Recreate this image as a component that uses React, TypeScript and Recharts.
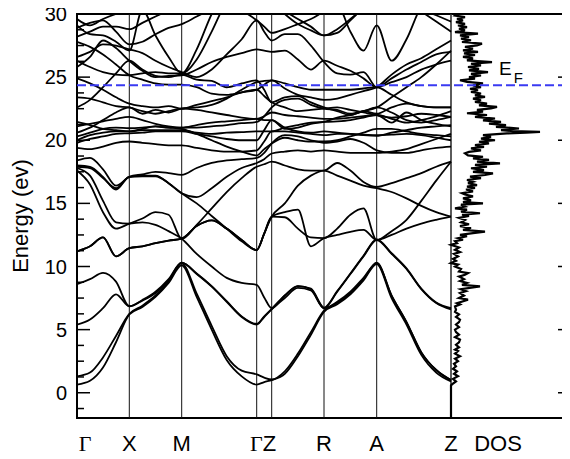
import React from "react";
import { ComposedChart, Line, XAxis, YAxis, ReferenceLine, ReferenceArea } from "recharts";

// k-path sample positions (Γ X M Γ Z R A Z), in path-length units
const kPoints = [0, 13, 26, 39, 52.3, 65.4, 78.5, 91.6, 104.7, 119.7, 134.7, 149.7, 164.7, 179.7, 187.2, 194.7, 207.8, 220.9, 233.9, 247, 260.2, 273.4, 286.5, 299.7, 314.6, 329.5, 344.3, 359.2, 374];

// band energies (eV)
const b01 = [0.65,0.95,2.0,4.0,6.2, 6.8,7.6,8.7,10.1, 7.6,5.0,2.6,1.3,0.65, 0.85,1.0, 1.5,2.9,4.6,6.4, 7.0,7.8,8.9,10.2, 7.5,5.4,3.0,1.6,0.9];
const b02 = [1.3,1.6,2.8,4.5,6.25, 6.9,7.7,8.8,10.25, 7.85,5.3,2.9,1.75,1.45, 1.2,1.05, 1.7,3.1,4.8,6.5, 7.1,7.9,9.0,10.3, 7.7,5.6,3.2,1.8,1.0];
const b03 = [5.4,5.8,6.7,7.8,6.85, 7.3,7.9,8.9,10.3, 9.4,8.4,7.2,6.0,5.4, 6.0,6.6, 7.5,8.3,8.1,6.7, 8.0,9.4,10.8,12.1, 11.0,9.8,8.2,7.1,6.6];
const b04 = [8.6,9.0,9.5,8.8,6.85, 7.35,8.0,9.0,10.3, 9.45,8.45,7.25,6.05,5.45, 6.05,6.65, 7.7,8.45,8.25,6.75, 8.05,9.45,10.85,12.15, 11.05,9.85,8.25,7.15,6.7];
const b05 = [11.2,11.6,12.3,10.8,11.45, 11.6,11.85,12.05,12.2, 13.2,13.65,13.0,12.1,11.3, 12.6,13.95, 14.3,14.5,11.6,12.25, 12.5,12.75,12.9,12.1, 12.8,13.7,15.2,16.8,18.3];
const b06 = [17.6,16.5,14.3,13.0,13.4, 13.8,14.3,14.1,12.2, 13.3,14.6,15.9,17.0,17.9, 18.1,18.3, 18.0,17.7,17.6,17.6, 18.2,17.6,16.7,16.3, 16.6,17.0,17.4,17.9,18.3];
const b07 = [17.8,17.2,15.2,13.5,13.4, 13.5,13.3,12.8,12.2, 11.0,10.0,9.1,8.7,8.55, 7.55,6.7, 7.7,8.45,8.2,6.7, 7.2,8.0,9.1,10.25, 7.7,5.6,3.2,1.8,1.0];
const b08 = [17.9,17.8,17.0,16.2,17.1, 17.2,17.2,16.6,15.8, 15.5,16.2,17.1,17.8,18.2, 18.5,18.95, 19.1,19.2,19.1,19.2, 19.1,19.0,19.0,19.0, 19.1,19.3,19.7,20.1,20.5];
const b09 = [18.4,18.6,17.7,16.4,17.1, 17.3,17.5,17.4,17.25, 17.8,18.2,18.4,18.5,18.6, 19.0,19.75, 20.4,20.3,20.0,19.8, 19.9,20.1,19.8,19.2, 19.0,19.0,19.2,19.4,19.5];
const b10 = [11.2,11.6,12.3,10.8,11.45, 11.6,11.85,12.05,12.2, 13.2,13.65,13.0,12.1,11.3, 12.6,13.95, 13.9,13.0,12.3,12.25, 13.0,14.1,14.6,12.1, 12.5,13.0,13.4,13.7,13.95];
const b11 = [18.0,17.9,17.1,16.1,17.1, 17.15,17.15,16.6,15.8, 15.0,14.0,13.0,12.0,11.3, 12.6,13.95, 15.0,16.4,17.2,17.6, 17.2,16.8,16.4,16.2, 15.9,15.4,14.8,14.3,13.95];
const b12 = [19.4,19.3,19.5,19.8,19.9, 19.8,19.7,19.6,19.6, 19.4,19.2,19.1,19.1,19.2, 19.9,20.7, 20.7,20.6,20.5,20.4, 20.5,20.5,20.45,20.4, 20.45,20.5,20.4,20.2,20.0];
const b13 = [19.8,20.1,20.3,20.5,20.55, 20.6,20.7,20.7,20.7, 20.5,20.3,20.1,20.0,20.0, 20.8,21.6, 21.0,20.7,20.6,20.7, 20.6,20.5,20.4,20.35, 20.6,20.8,21.0,21.1,21.2];
const b14 = [20.0,20.4,20.6,20.7,20.7, 20.8,20.8,20.8,20.8, 20.6,20.5,20.6,20.65,20.7, 20.7,20.7, 21.0,21.2,21.4,21.45, 21.5,21.6,21.8,22.0, 21.4,22.2,21.6,21.3,21.1];
const b15 = [20.3,20.6,20.9,21.0,20.95, 21.0,21.1,21.0,21.0, 21.0,21.1,21.2,21.35,21.45, 21.9,22.6, 23.2,23.3,22.8,22.5, 22.4,22.1,22.3,22.6, 22.2,21.6,21.4,21.6,21.85];
const b16 = [20.6,21.0,21.6,22.2,22.6, 22.1,22.4,22.2,22.5, 22.6,22.8,23.3,24.0,24.6, 24.7,24.75, 24.1,23.6,23.4,23.2, 23.3,23.6,23.9,24.2, 25.2,26.0,26.5,27.2,27.9];
const b17 = [21.1,21.3,21.5,21.7,21.85, 21.6,21.3,21.1,21.0, 21.2,21.4,21.5,21.6,21.7, 21.6,21.6, 20.9,21.0,21.3,21.45, 21.8,22.0,22.3,22.6, 23.4,24.2,25.0,26.0,27.1];
const b18 = [22.6,23.2,24.2,25.3,26.3, 25.6,25.1,25.0,25.2, 24.8,24.7,24.2,24.5,24.75, 24.0,23.0, 23.4,23.5,23.0,22.6, 22.3,22.0,22.3,22.1, 22.6,22.9,22.7,22.6,22.6];
const b19 = [24.9,24.5,24.0,23.4,22.9, 22.7,22.6,22.7,22.5, 22.8,23.1,23.4,23.8,24.0, 24.4,24.75, 24.5,24.2,24.0,24.0, 24.0,24.0,24.1,24.2, 23.6,23.0,22.7,22.6,22.6];
const b20 = [26.3,25.8,25.4,25.2,25.15, 25.3,25.4,25.3,25.3, 26.4,28.6,31,32,32, 31.2,30.5, 30.2,29.6,29.0,28.3, 28.8,29.6,30.5,31.5, 32,32,32,32,32];
const b21 = [25.8,26.6,27.9,27.3,26.3, 25.5,25.0,25.1,25.15, 25.6,26.2,26.6,26.9,27.2, 27.1,27.0, 27.1,26.4,25.6,26.3, 25.9,25.5,24.9,24.2, 24.6,25.0,25.6,26.0,26.3];
const b22 = [29.1,28.4,28.3,27.8,27.1, 30.3,28.3,26.6,25.3, 27.2,30.0,32,32,32, 32,32, 32,32,32,32, 32,32,32,32, 31.5,31,30.4,29.9,29.4];
const b23 = [26.6,27.0,27.6,27.5,27.2, 26.9,26.3,25.8,25.4, 25.0,25.6,26.8,28.0,29.5, 28.6,27.9, 28.4,28.4,27.5,26.2, 25.3,25.2,25.4,24.2, 24.9,25.6,26.2,26.8,27.0];
const b24 = [27.8,27.4,26.8,26.0,25.15, 24.8,24.5,24.4,24.4, 24.2,23.7,23.6,23.8,24.0, 23.5,23.0, 22.6,22.3,22.4,22.5, 22.6,22.4,22.2,22.0, 21.8,21.9,22.1,22.0,21.85];
const b25 = [29.6,29.1,29.6,30.0,30.3, 30.8,31.2,31.5,31.5, 31.5,31.5,31,30.3,29.5, 29.0,28.5, 28.8,29.2,29.6,30.2, 30.7,28.6,27.1,29.1, 26.3,28.0,30.6,31.5,32];
const b26 = [28.2,28.6,29.0,29.0,28.8, 29.3,29.8,30.3,30.8, 31,31.5,32,32,32, 31.5,31, 30.0,29.2,28.7,28.3, 28.5,29.5,30.5,31.5, 31.5,31,30.2,29.4,28.6];
const b27 = [28.9,29.3,29.5,28.6,27.6, 27.8,28.4,28.9,29.2, 29.8,30.4,30.8,31,31, 31,31, 31,31,31,31, 31,31,31,31, 31,31,31,31,31];
const b28 = [23.4,23.3,23.0,22.7,22.6, 22.3,22.1,22.3,22.5, 22.4,22.2,22.0,21.8,21.7, 21.9,22.2, 22.0,21.9,21.8,21.7, 21.7,21.8,21.9,22.0, 21.7,21.4,21.6,21.9,22.3];
const b29 = [21.45,21.2,20.9,20.8,20.7, 20.9,21.1,21.0,20.9, 20.5,20.0,19.5,19.1,18.8, 19.3,19.75, 20.2,20.0,19.9,19.9, 20.0,20.3,20.6,20.9, 20.9,20.7,20.5,20.4,20.3];

const bands = [b01,b02,b03,b04,b05,b06,b07,b08,b09,b10,b11,b12,b13,b14,b15,b16,b17,b18,b19,b20,b21,b22,b23,b24,b25,b26,b27,b28,b29];

// density of states: energy (eV) and DOS value (panel units)
const dosE = [-2,0.58,0.66,0.9,1.1,1.31,1.5,1.7,1.9,2.1,2.3,2.5,2.7,2.89,3.1,3.3,3.42,3.6,3.8,4.0,4.21,4.4,4.6,4.8,5.0,5.2,5.4,5.6,5.79,6.0,6.2,6.4,6.58,6.84,7.0,7.1,7.37,7.5,7.7,7.9,8.05,8.2,8.42,8.55,8.7,8.85,9.0,9.2,9.35,9.48,9.6,9.8,10.0,10.15,10.27,10.45,10.6,10.8,11.0,11.15,11.32,11.5,11.72,11.85,12.0,12.12,12.24,12.4,12.5,12.65,12.76,12.9,13.05,13.2,13.35,13.5,13.69,13.85,14.0,14.1,14.22,14.35,14.5,14.61,14.75,14.9,15.0,15.1,15.25,15.4,15.55,15.7,15.8,15.95,16.1,16.22,16.32,16.45,16.6,16.71,16.85,17.0,17.12,17.25,17.38,17.5,17.64,17.78,17.9,18.05,18.17,18.3,18.45,18.56,18.69,18.8,18.96,19.08,19.2,19.35,19.48,19.61,19.75,19.88,20.0,20.13,20.27,20.4,20.54,20.6,20.66,20.72,20.8,20.93,21.06,21.2,21.32,21.45,21.58,21.72,21.85,22.0,22.14,22.27,22.4,22.52,22.64,22.76,22.9,23.04,23.17,23.3,23.43,23.56,23.7,23.83,23.96,24.08,24.2,24.35,24.5,24.62,24.75,24.88,25.0,25.13,25.26,25.4,25.53,25.66,25.8,25.93,26.06,26.19,26.33,26.48,26.6,26.75,26.88,27.0,27.12,27.26,27.4,27.52,27.65,27.78,27.92,28.05,28.17,28.3,28.44,28.56,28.7,28.83,28.96,29.09,29.22,29.36,29.49,29.62,29.75,29.88,30.0];
const dosV = [0,0,1,5,2,7,3,6,2,5,3,7,4,9,4,7,4,8,5,8,9,4,8,5,4,8,5,8,9,5,8,4,5,4,9,6,17,8,13,9,15,10,29,11,16,9,13,8,14,17,8,10,4,7,0,5,2,7,3,9,4,8,0,6,4,12,7,16,9,22,34,12,20,9,18,10,14,8,18,11,29,10,16,4,14,10,32,12,20,12,22,14,11,22,15,24,16,26,17,22,16,30,19,34,42,22,33,20,36,24,49,26,38,22,32,17,14,18,30,20,33,24,38,28,44,30,40,32,56,75,89,62,50,68,45,55,38,50,32,44,24,36,16,32,26,40,46,28,36,24,30,22,34,24,30,20,27,19,30,22,32,16,9,24,18,30,20,37,18,28,17,30,20,41,16,22,12,24,13,27,12,22,14,26,31,11,20,10,18,9,27,4,14,8,16,7,14,5,12,6,14,4,6];

const symK = [52.3, 104.7, 179.7, 194.7, 247, 299.7];
const dosAxisK = 374;
const kMax = 494;
const labelK = [8, 52.3, 104.7, 186, 247, 299.7, 374, 421];
const labelText = ["Γ", "X", "M", "ΓZ", "R", "A", "Z", "DOS"];
const yTicks = [-1.25,0,1.25,2.5,3.75,5,6.25,7.5,8.75,10,11.25,12.5,13.75,15,16.25,17.5,18.75,20,21.25,22.5,23.75,25,26.25,27.5,28.75,30];
const majorTicks = [0,5,10,15,20,25,30];
const fermi = 24.35;

const table = kPoints.map((k, i) => {
  const row: Record<string, number> = { k };
  bands.forEach((b, j) => { row["b" + j] = b[i]; });
  return row;
});
const dosData = dosE.map((e, i) => ({ k: dosAxisK + dosV[i], e }));

const SANS = "'Liberation Sans', Arial, Helvetica, sans-serif";
const SERIF = "'Liberation Serif', 'Times New Roman', serif";

const LeftTick = (props: any) => {
  const { x, y, payload } = props;
  const v = payload.value;
  const major = majorTicks.includes(v);
  return (
    <g>
      <line x1={x} x2={x + (major ? 13 : 7)} y1={y} y2={y} stroke="#000" strokeWidth={1.5} />
      {major && (
        <text x={x - 10} y={y + 7} textAnchor="end" fontSize={20} fontFamily={SANS} fill="#000">{v}</text>
      )}
    </g>
  );
};

const RightTick = (props: any) => {
  const { x, y, payload } = props;
  const major = majorTicks.includes(payload.value);
  return <line x1={x} x2={x - (major ? 13 : 7)} y1={y} y2={y} stroke="#000" strokeWidth={1.5} />;
};

const BottomTick = (props: any) => {
  const { x, y, payload } = props;
  const idx = labelK.indexOf(payload.value);
  const label = idx >= 0 ? labelText[idx] : "";
  return (
    <text x={x} y={y + 33} textAnchor="middle" fontSize={22} fill="#000" fontFamily={SANS}>
      {label.split("").map((ch, i) => (
        <tspan key={i} fontFamily={ch === "Γ" ? SERIF : SANS}>{ch}</tspan>
      ))}
    </text>
  );
};

const yLabel = () => (
  <text x={27.5} y={216} transform="rotate(-90, 27.5, 216)" textAnchor="middle" fontSize={22} fontFamily={SANS} fill="#000">
    Energy (ev)
  </text>
);

const fermiLabel = (props: any) => {
  const vb = props.viewBox || {};
  const x0 = (vb.x || 0) + 422;
  const y0 = (vb.y || 0) - 10;
  return (
    <text x={x0} y={y0} fontSize={19} fontFamily={SANS} fill="#000">
      E<tspan dx={2} dy={8} fontSize={15}>F</tspan>
    </text>
  );
};

export default function App() {
  return (
    <div style={{ margin: -8, width: 570, height: 459, overflow: "hidden" }}>
      <ComposedChart width={591} height={459} data={table} margin={{ top: 14, right: 0, bottom: 0, left: 0 }}>
        <XAxis
          type="number"
          dataKey="k"
          domain={[0, kMax]}
          allowDataOverflow
          ticks={labelK}
          interval={0}
          tick={<BottomTick />}
          tickLine={false}
          axisLine={false}
          tickSize={0}
          tickMargin={0}
          height={41}
        />
        <YAxis
          yAxisId="l"
          type="number"
          domain={[-2, 30]}
          allowDataOverflow
          ticks={yTicks}
          interval={0}
          tick={<LeftTick />}
          tickLine={false}
          axisLine={false}
          tickSize={0}
          tickMargin={0}
          width={77}
          label={yLabel}
        />
        <YAxis
          yAxisId="r"
          orientation="right"
          type="number"
          domain={[-2, 30]}
          allowDataOverflow
          ticks={yTicks}
          interval={0}
          tick={<RightTick />}
          tickLine={false}
          axisLine={false}
          tickSize={0}
          tickMargin={0}
          width={20}
        />
        {symK.map((k) => (
          <ReferenceLine key={"v" + k} yAxisId="l" x={k} stroke="#111" strokeWidth={1} />
        ))}
        <ReferenceLine yAxisId="l" x={dosAxisK} stroke="#333" strokeWidth={1.6} />
        {bands.map((_, j) => (
          <Line
            key={"b" + j}
            yAxisId="l"
            dataKey={"b" + j}
            type="monotone"
            stroke="#000"
            strokeWidth={1.8}
            dot={false}
            activeDot={false}
            isAnimationActive={false}
          />
        ))}
        <Line
          yAxisId="l"
          data={dosData}
          dataKey="e"
          type="linear"
          stroke="#000"
          strokeWidth={2.2}
          dot={false}
          activeDot={false}
          isAnimationActive={false}
        />
        <ReferenceLine
          yAxisId="l"
          y={fermi}
          stroke="#3a3af2"
          strokeWidth={2}
          strokeDasharray="9 4"
          label={fermiLabel}
        />
        <ReferenceArea
          yAxisId="l"
          x1={0}
          x2={kMax}
          y1={-2}
          y2={30}
          fill="none"
          fillOpacity={0}
          stroke="#000"
          strokeWidth={2}
          ifOverflow="visible"
        />
      </ComposedChart>
    </div>
  );
}
